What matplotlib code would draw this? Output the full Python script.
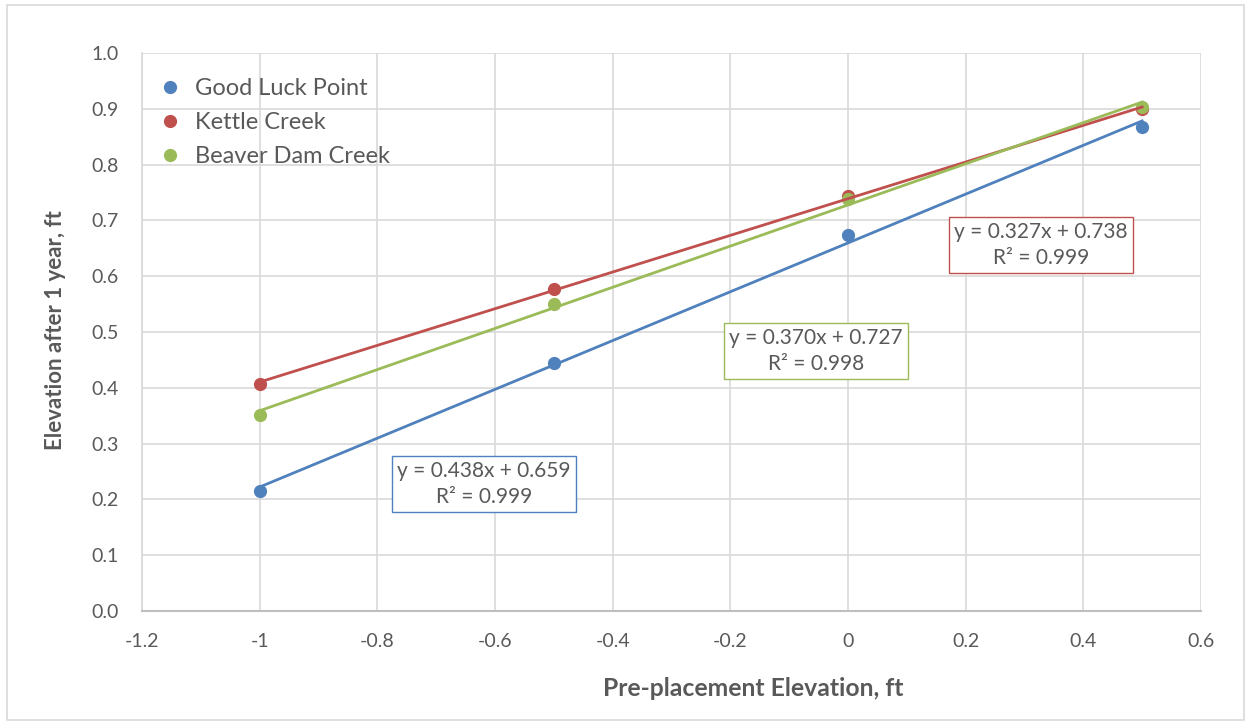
import numpy as np
import matplotlib
matplotlib.use("Agg")
import matplotlib.pyplot as plt
from matplotlib.patches import Rectangle

# data
x_vals = [-1.0, -0.5, 0.0, 0.5]
series_names = ["Good Luck Point", "Kettle Creek", "Beaver Dam Creek"]
good_luck = [0.215, 0.445, 0.673, 0.868]
kettle = [0.407, 0.577, 0.744, 0.899]
beaver = [0.351, 0.550, 0.738, 0.903]
eq_labels = ["y = 0.438x + 0.659\nR² = 0.999",
             "y = 0.327x + 0.738\nR² = 0.999",
             "y = 0.370x + 0.727\nR² = 0.998"]
x_ticks = [-1.2, -1, -0.8, -0.6, -0.4, -0.2, 0, 0.2, 0.4, 0.6]
y_ticks = [0.0, 0.1, 0.2, 0.3, 0.4, 0.5, 0.6, 0.7, 0.8, 0.9, 1.0]

colors = ["#4F81BD", "#C0504D", "#9BBB59"]
label_pos = [(-0.619, 0.228), (0.328, 0.656), (-0.054, 0.466)]
TXT = "#595959"
GRID = "#D9D9D9"

plt.rcParams["font.family"] = ["Lato", "DejaVu Sans"]

W, H = 1249, 726
fig = plt.figure(figsize=(W / 100, H / 100), dpi=100)
fig.patches.append(Rectangle((0.006, 0.008), 0.99, 0.985, transform=fig.transFigure,
                             fill=False, edgecolor=GRID, lw=1.2))
ax = fig.add_axes([142 / W, 115 / H, 1059 / W, 558 / H])

for ys, name, c in zip([good_luck, kettle, beaver], series_names, colors):
    ax.plot(x_vals, ys, "o", ms=8.5, color=c, label=name, zorder=3)
for ys, c in zip([good_luck, kettle, beaver], colors):
    k, b = np.polyfit(x_vals, ys, 1)
    xs = np.array([x_vals[0], x_vals[-1]])
    ax.plot(xs, k * xs + b, "-", lw=2, color=c, zorder=4)

for txt, (lx, ly), c in zip(eq_labels, label_pos, colors):
    ax.text(lx, ly, txt, ha="center", va="center", fontsize=15, color=TXT,
            linespacing=1.35, zorder=5,
            bbox=dict(boxstyle="square,pad=0.25", fc="white", ec=c, lw=1))

ax.set_xlim(-1.2, 0.6)
ax.set_ylim(0, 1.0)
ax.set_xticks(x_ticks)
ax.set_xticklabels([f"{t:g}" for t in x_ticks])
ax.set_yticks(y_ticks)
ax.set_yticklabels([f"{t:.1f}" for t in y_ticks])
ax.grid(True, color=GRID, lw=1.2)
ax.set_axisbelow(True)
for s in ["top", "right"]:
    ax.spines[s].set_visible(False)
ax.spines["left"].set_color(GRID)
ax.spines["left"].set_linewidth(1.2)
ax.spines["bottom"].set_color("#BFBFBF")
ax.spines["bottom"].set_linewidth(1.5)
ax.tick_params(length=0, labelsize=14, labelcolor=TXT)
ax.tick_params(axis="x", pad=16)
ax.tick_params(axis="y", pad=17)

fig.text(753 / W, 1 - 688 / H, "Pre-placement Elevation, ft", fontsize=17.8,
         fontweight="bold", color=TXT, ha="center", va="center")
fig.text(56 / W, 1 - 330 / H, "Elevation after 1 year, ft", fontsize=16,
         fontweight="bold", color=TXT, ha="center", va="center", rotation=90)

ax.legend(loc="upper left", bbox_to_anchor=(-0.007, 0.997), frameon=False,
          fontsize=17, labelcolor=TXT, handletextpad=0.55, labelspacing=0.54,
          handlelength=1.0, borderaxespad=0.6)

fig.savefig("out.png", dpi=100, facecolor="white")
